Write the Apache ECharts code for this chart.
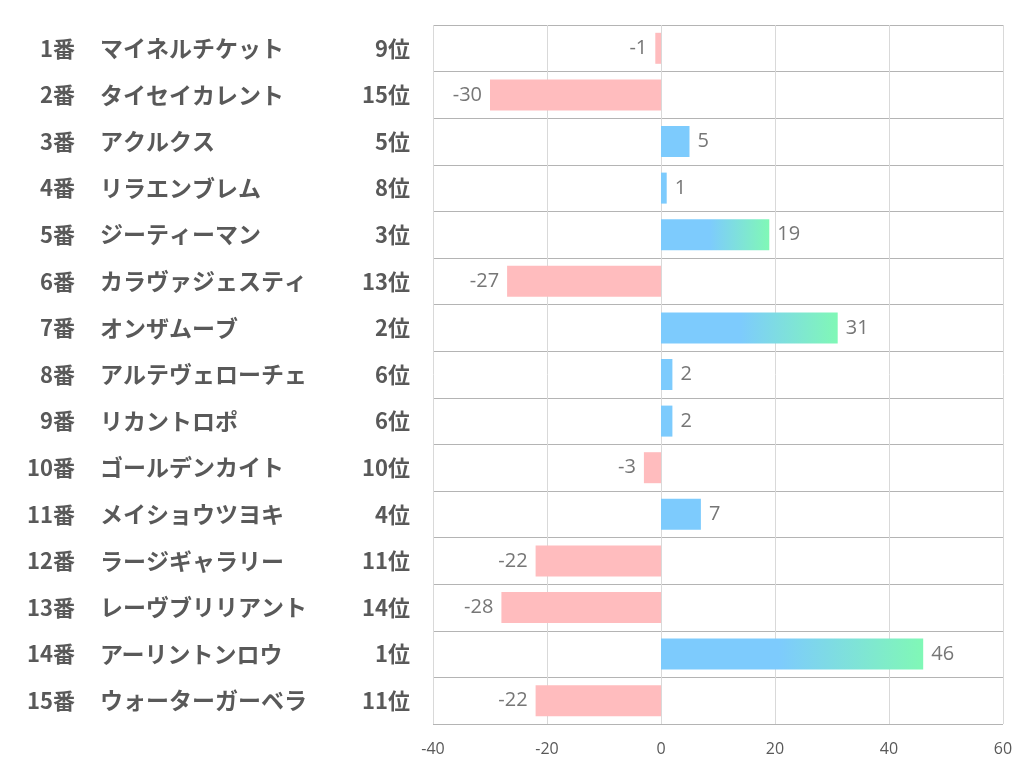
<!DOCTYPE html>
<html><head><meta charset="utf-8">
<script src="https://cdn.jsdelivr.net/npm/echarts@6/dist/echarts.min.js"></script>
<style>html,body{margin:0;padding:0;background:#fff}#c{width:1022px;height:782px}</style>
</head><body><div id="c"></div>
<script>
const numbers = ['1番','2番','3番','4番','5番','6番','7番','8番','9番','10番','11番','12番','13番','14番','15番'];
const names = ['マイネルチケット','タイセイカレント','アクルクス','リラエンブレム','ジーティーマン','カラヴァジェスティ','オンザムーブ','アルテヴェローチェ','リカントロポ','ゴールデンカイト','メイショウツヨキ','ラージギャラリー','レーヴブリリアント','アーリントンロウ','ウォーターガーベラ'];
const ranks = ['9位','15位','5位','8位','3位','13位','2位','6位','6位','10位','4位','11位','14位','1位','11位'];
const values = [-1,-30,5,1,19,-27,31,2,2,-3,7,-22,-28,46,-22];
const xTicks = {min:-40, max:60, interval:20};

const BLUE = '#7dcbfd', GREEN = '#80f8b6', PINK = '#ffbcbe';
const chart = echarts.init(document.getElementById('c'));
const data = values.map((v,i)=>{
  let color;
  if (v < 0) color = PINK;
  else if (parseInt(ranks[i]) <= 3) color = {type:'linear',x:0,y:0,x2:1,y2:0,colorStops:[{offset:0,color:BLUE},{offset:0.45,color:BLUE},{offset:1,color:GREEN}]};
  else color = BLUE;
  return {value:v, itemStyle:{color}, label:{position: v<0?'left':'right'}};
});
const labelFont = {fontSize:22,fontWeight:'bold',color:'#595959',fontFamily:'"Noto Sans CJK JP",sans-serif'};
function catAxis(labels, margin, align, show, size){
  return {type:'category',inverse:true,data:labels,position:'left',
    axisLine:{show:false},axisTick:{show:false},
    splitLine:{show:show,lineStyle:{color:'#b4b4b4',width:1}},
    axisLabel:Object.assign({margin:margin,align:align},labelFont,size?{fontSize:size}:{})};
}
chart.setOption({
  animation:false,
  grid:{left:433,right:19,top:25,bottom:58,containLabel:false},
  xAxis:{type:'value',min:xTicks.min,max:xTicks.max,interval:xTicks.interval,
    axisLine:{show:false},axisTick:{show:false},
    splitLine:{show:true,lineStyle:{color:'#d9d9d9',width:1}},
    axisLabel:{color:'#595959',fontSize:16,fontFamily:'"Open Sans","Noto Sans",sans-serif',margin:17}},
  yAxis:[catAxis(ranks,23,'right',true),catAxis(names,333,'left',false,23),catAxis(numbers,358,'right',false)],
  series:[{type:'bar',data:data,barWidth:31,yAxisIndex:0,
    label:{show:true,distance:8,color:'#767676',fontSize:20,fontFamily:'"Open Sans","Noto Sans",sans-serif',padding:[4,0,0,0]}}]
});
</script></body></html>
